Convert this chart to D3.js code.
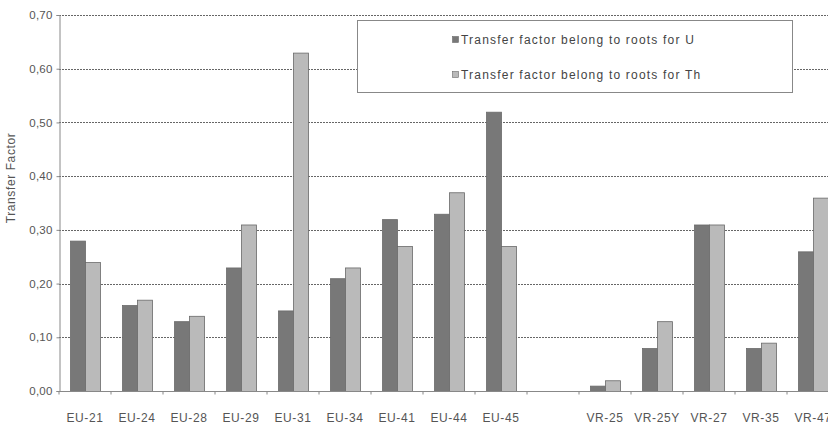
<!DOCTYPE html>
<html><head><meta charset="utf-8">
<script src="https://cdn.jsdelivr.net/npm/d3@7/dist/d3.min.js"></script>
<style>body{margin:0;background:#fff;} svg{display:block;font-family:"Liberation Sans",Arial,sans-serif;}</style>
</head><body>
<svg id="c" width="828" height="425"></svg>
<script>
const categories = ["EU-21","EU-24","EU-28","EU-29","EU-31","EU-34","EU-41","EU-44","EU-45","","VR-25","VR-25Y","VR-27","VR-35","VR-47"];
const valuesU  = [0.28,0.16,0.13,0.23,0.15,0.21,0.32,0.33,0.52,null,0.01,0.08,0.31,0.08,0.26];
const valuesTh = [0.24,0.17,0.14,0.31,0.63,0.23,0.27,0.37,0.27,null,0.02,0.13,0.31,0.09,0.36];
const seriesNames = ["Transfer factor belong to roots for U","Transfer factor belong to roots for Th"];
const yTicks = [0,0.1,0.2,0.3,0.4,0.5,0.6,0.7];

const svg = d3.select("#c");
const mLeft = 59, mRight = 839, mTop = 15, mBottom = 391;
const x = d3.scaleBand().domain(categories.map((c,i)=>i)).range([mLeft,mRight]).paddingInner(0).paddingOuter(0);
const y = d3.scaleLinear().domain([0,0.7]).range([mBottom,mTop]);
const fmt = d => d3.format(".2f")(d).replace(".",",");

// gridlines
svg.append("g").selectAll("line").data(yTicks.filter(d=>d>0)).join("line")
  .attr("x1",mLeft).attr("x2",828).attr("y1",d=>Math.round(y(d))+0.5).attr("y2",d=>Math.round(y(d))+0.5)
  .attr("stroke","#666").attr("stroke-width",1).attr("stroke-dasharray","2,1");

// bars
const bw = 15;
const data = [];
categories.forEach((c,i)=>{
  if(valuesU[i]!=null) data.push({i, s:0, v:valuesU[i]});
  if(valuesTh[i]!=null) data.push({i, s:1, v:valuesTh[i]});
});
const colors = ["#787878","#bababa"];
svg.append("g").selectAll("rect").data(data).join("rect")
  .attr("x",d=>x(d.i)+x.bandwidth()/2 - bw + d.s*bw + 0.5)
  .attr("y",d=>y(d.v)+0.5)
  .attr("width",bw)
  .attr("height",d=>mBottom - y(d.v))
  .attr("fill",d=>colors[d.s])
  .attr("stroke","#6a6a6a").attr("stroke-width",0.8);

// y axis
const ya = svg.append("g").attr("transform",`translate(${mLeft+0.5},0)`)
  .call(d3.axisLeft(y).tickValues(yTicks).tickFormat(fmt).tickSize(3).tickPadding(4));
ya.select(".domain").attr("stroke","#888");
ya.selectAll(".tick line").attr("stroke","#888");
ya.selectAll("text").attr("font-size",11.5).attr("fill","#555").attr("letter-spacing",0.2)
  .attr("font-family","Liberation Sans, Arial, sans-serif");

// x axis
const xa = svg.append("g").attr("transform",`translate(0,${mBottom+0.5})`);
xa.append("line").attr("x1",mLeft).attr("x2",828).attr("stroke","#888");
xa.selectAll("line.t").data(d3.range(categories.length+1)).join("line").attr("class","t")
  .attr("x1",i=>mLeft+i*x.bandwidth()).attr("x2",i=>mLeft+i*x.bandwidth()).attr("y1",0).attr("y2",3).attr("stroke","#888");
xa.selectAll("text").data(categories).join("text")
  .attr("x",(c,i)=>x(i)+x.bandwidth()/2).attr("y",30).attr("text-anchor","middle")
  .attr("font-size",12).attr("fill","#555").attr("letter-spacing",0.6).text(c=>c);

// y label
svg.append("text").attr("transform","translate(15,178) rotate(-90)").attr("text-anchor","middle")
  .attr("font-size",12).attr("fill","#555").attr("letter-spacing",0.6).text("Transfer Factor");

// legend
const lg = svg.append("g");
lg.append("rect").attr("x",357.5).attr("y",20.5).attr("width",435).attr("height",72)
  .attr("fill","#fff").attr("stroke","#888");
const ly = [40,75];
seriesNames.forEach((n,k)=>{
  lg.append("rect").attr("x",452.5).attr("y",ly[k]-3.5).attr("width",6).attr("height",6)
    .attr("fill",colors[k]).attr("stroke","#6a6a6a").attr("stroke-width",0.6);
  lg.append("text").attr("x",461).attr("y",ly[k]+4).attr("font-size",12).attr("fill","#444")
    .attr("letter-spacing",1.2).text(n);
});
</script>
</body></html>
